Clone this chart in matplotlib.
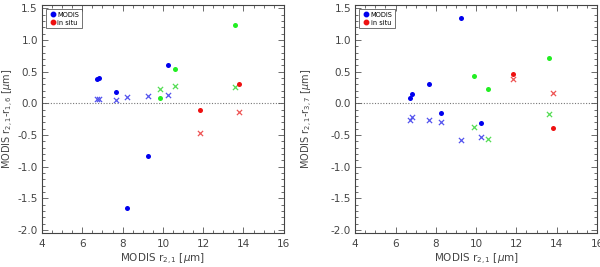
import matplotlib
matplotlib.use("Agg")
import matplotlib.pyplot as plt
from matplotlib.ticker import MultipleLocator
from matplotlib.lines import Line2D

# x positions (MODIS r2.1)
x_blue = [6.73, 6.84, 7.68, 8.24, 9.27, 10.23]
x_green = [9.88, 10.6, 13.6]
x_red = [11.84, 13.8]

# Left panel: r2.1 - r1.6
l_blue_modis = [0.38, 0.40, 0.17, -1.66, -0.835, 0.61]
l_blue_situ = [0.06, 0.06, 0.057, 0.10, 0.12, 0.13]
l_green_modis = [0.09, 0.54, 1.24]
l_green_situ = [0.22, 0.27, 0.26]
l_red_modis = [-0.11, 0.30]
l_red_situ = [-0.47, -0.14]

# Right panel: r2.1 - r3.7
r_blue_modis = [0.09, 0.14, 0.31, -0.15, 1.34, -0.31]
r_blue_situ = [-0.27, -0.21, -0.26, -0.30, -0.58, -0.53]
r_green_modis = [0.43, 0.22, 0.71]
r_green_situ = [-0.38, -0.56, -0.175]
r_red_modis = [0.46, -0.39]
r_red_situ = [0.38, 0.155]

xticks = [4, 6, 8, 10, 12, 14, 16]
yticks = [-2.0, -1.5, -1.0, -0.5, 0.0, 0.5, 1.0, 1.5]
yticklabels = ["-2.0", "-1.5", "-1.0", "-0.5", "0.0", "0.5", "1.0", "1.5"]
ylabels = ["MODIS r$_{2,1}$-r$_{1,6}$ [$\\mu$m]", "MODIS r$_{2,1}$-r$_{3,7}$ [$\\mu$m]"]

plt.rcParams['font.family'] = ['DejaVu Sans']
txtc = '#444444'
BLUE = '#0000ee'
GREEN = '#22ee22'
RED = '#ee1111'

fig = plt.figure(figsize=(6.0, 2.67), dpi=100)
ax1 = fig.add_axes([0.07, 0.127, 0.403, 0.854])
ax2 = fig.add_axes([0.592, 0.127, 0.403, 0.854])

panels = [
    (ax1, l_blue_modis, l_blue_situ, l_green_modis, l_green_situ, l_red_modis, l_red_situ, ylabels[0], -0.108),
    (ax2, r_blue_modis, r_blue_situ, r_green_modis, r_green_situ, r_red_modis, r_red_situ, ylabels[1], -0.165),
]

for ax, bm, bs, gm, gs, rm, rs, ylab, ylx in panels:
    ax.axhline(0, color='#777777', lw=0.8, ls=(0, (1, 1.5)), zorder=1)
    ax.scatter(x_blue, bm, s=13, color=BLUE, marker='o', lw=0, zorder=3)
    ax.scatter(x_blue, bs, s=14, color='#5555ee', marker='x', lw=0.9, zorder=3)
    ax.scatter(x_green, gm, s=13, color=GREEN, marker='o', lw=0, zorder=3)
    ax.scatter(x_green, gs, s=14, color='#55dd55', marker='x', lw=0.9, zorder=3)
    ax.scatter(x_red, rm, s=13, color=RED, marker='o', lw=0, zorder=3)
    ax.scatter(x_red, rs, s=14, color='#ee5555', marker='x', lw=0.9, zorder=3)
    ax.set_xlim(4, 16)
    ax.set_ylim(-2.05, 1.55)
    ax.set_xticks(xticks)
    ax.set_yticks(yticks)
    ax.set_yticklabels(yticklabels)
    ax.xaxis.set_minor_locator(MultipleLocator(0.5))
    ax.yaxis.set_minor_locator(MultipleLocator(0.1))
    ax.tick_params(which='both', direction='in', top=True, right=True, colors='#555555',
                   labelcolor=txtc, labelsize=7.5, width=0.6)
    ax.tick_params(which='major', length=4, pad=4)
    ax.tick_params(axis='y', which='major', pad=3)
    ax.tick_params(which='minor', length=2)
    for sp in ax.spines.values():
        sp.set_color('#444444')
        sp.set_linewidth(0.8)
    ax.set_xlabel("MODIS r$_{2,1}$ [$\\mu$m]", fontsize=7.5, color=txtc, labelpad=2)
    ax.set_ylabel(ylab, fontsize=7.0, color=txtc)
    ax.yaxis.set_label_coords(ylx, 0.5)
    handles = [
        Line2D([], [], marker='o', ls='', color=BLUE, markersize=3.2, label='MODIS'),
        Line2D([], [], marker='o', ls='', color=RED, markersize=3.2, label='in situ'),
    ]
    leg = ax.legend(handles=handles, loc='upper left', fontsize=4.8, frameon=True, fancybox=False,
                    edgecolor='#333333', handletextpad=0.1, handlelength=1.2, borderpad=0.4,
                    labelspacing=0.3, borderaxespad=0.6)
    leg.get_frame().set_linewidth(0.6)

fig.savefig("out.png", dpi=100)
